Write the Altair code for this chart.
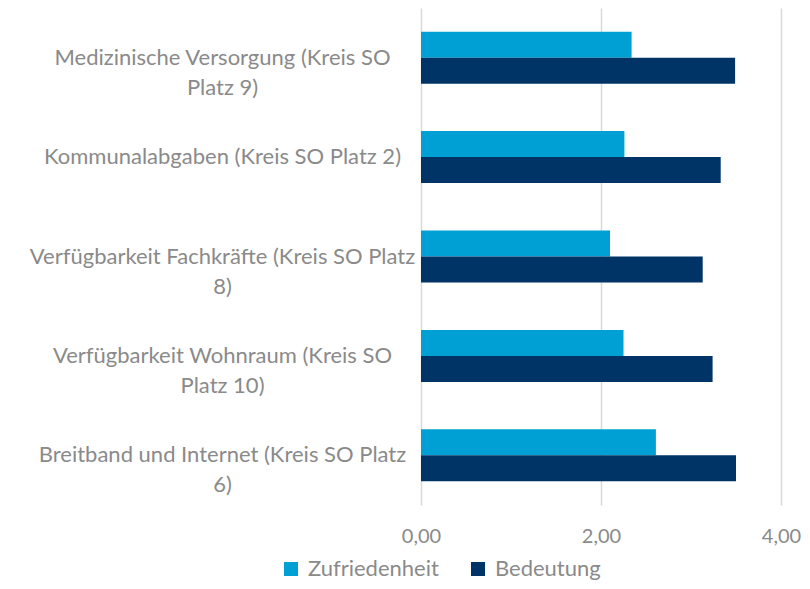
import altair as alt
import pandas as pd

categories = [
    "Medizinische Versorgung (Kreis SO\nPlatz 9)",
    "Kommunalabgaben (Kreis SO Platz 2)",
    "Verfügbarkeit Fachkräfte (Kreis SO Platz\n8)",
    "Verfügbarkeit Wohnraum (Kreis SO\nPlatz 10)",
    "Breitband und Internet (Kreis SO Platz\n6)",
]
series = ["Zufriedenheit", "Bedeutung"]
zufriedenheit = [2.34, 2.26, 2.10, 2.25, 2.61]
bedeutung = [3.49, 3.33, 3.13, 3.24, 3.50]
x_ticks = [0, 2, 4]
colors = ["#00A0D5", "#003466"]

rows = []
for c, z, b in zip(categories, zufriedenheit, bedeutung):
    rows.append({"Kategorie": c, "Serie": series[0], "Wert": z})
    rows.append({"Kategorie": c, "Serie": series[1], "Wert": b})
df = pd.DataFrame(rows)

FONT = "Lato"
GRAY = "#8a8a8a"

chart = (
    alt.Chart(df)
    .mark_bar()
    .encode(
        y=alt.Y(
            "Kategorie:N",
            sort=categories,
            scale=alt.Scale(paddingInner=0.477, paddingOuter=0.2385),
            axis=alt.Axis(
                title=None,
                domain=False,
                ticks=False,
                grid=False,
                labelExpr="split(datum.label, '\\n')",
                labelAlign="center",
                labelBaseline="middle",
                labelPadding=199,
                labelLineHeight=30,
                labelFont=FONT,
                labelFontSize=22,
                labelColor=GRAY,
                labelLimit=500,
            ),
        ),
        yOffset=alt.YOffset("Serie:N", sort=series, scale=alt.Scale(paddingInner=0, paddingOuter=0)),
        x=alt.X(
            "Wert:Q",
            scale=alt.Scale(domain=[0, 4], nice=False),
            axis=alt.Axis(
                title=None,
                values=x_ticks,
                domain=False,
                ticks=False,
                grid=True,
                gridColor="#d9d9d9",
                gridWidth=1.5,
                labelExpr="replace(format(datum.value, '.2f'), '.', ',')",
                labelFont=FONT,
                labelFontSize=20,
                labelColor=GRAY,
                labelPadding=21,
                labelFlush=False,
                labelOverlap=False,
            ),
        ),
        color=alt.Color(
            "Serie:N",
            sort=series,
            scale=alt.Scale(domain=series, range=colors),
            legend=alt.Legend(
                title=None,
                orient="none",
                direction="horizontal",
                legendX=-141,
                legendY=550,
                symbolType="square",
                symbolSize=196,
                symbolStrokeWidth=0,
                labelFont=FONT,
                labelFontSize=22,
                labelColor=GRAY,
                labelOffset=6,
                columnPadding=28,
            ),
        ),
    )
    .properties(
        width=360,
        height=497,
        padding={"left": 413, "top": 0, "right": 21, "bottom": 76},
        autosize=alt.AutoSizeParams(type="none"),
    )
    .configure_view(stroke=None)
)

chart.save("out.html", embed_options={"renderer": "svg", "actions": False})
